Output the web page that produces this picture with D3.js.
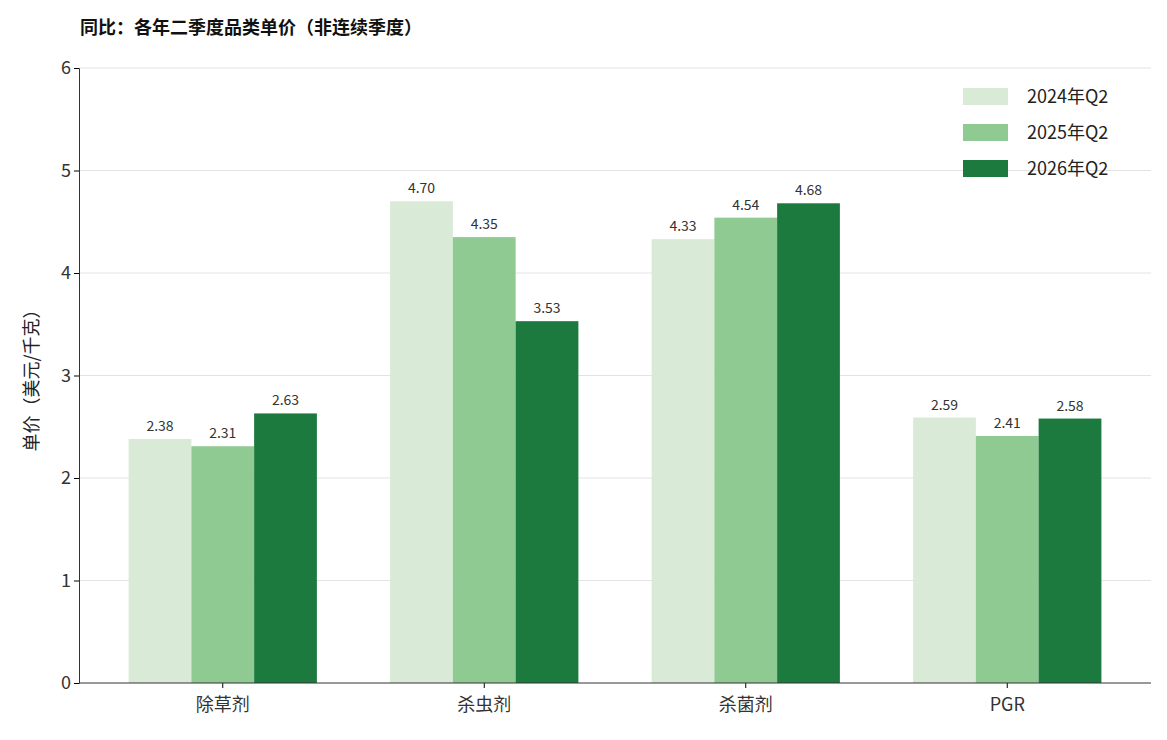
<!DOCTYPE html>
<html><head><meta charset="utf-8">
<script src="https://cdn.jsdelivr.net/npm/d3@7"></script>
<style>body{margin:0;background:#fff;font-family:"Noto Sans CJK SC","Noto Sans",sans-serif}</style>
</head><body><svg id="c" width="1167" height="740"></svg>
<script>
const categories = ["除草剂","杀虫剂","杀菌剂","PGR"];
const seriesNames = ["2024年Q2","2025年Q2","2026年Q2"];
const v2024 = [2.38,4.70,4.33,2.59];
const v2025 = [2.31,4.35,4.54,2.41];
const v2026 = [2.63,3.53,4.68,2.58];
const colors = ["#d9ead7","#8fca92","#1c7a3e"];
const yTicks = [0,1,2,3,4,5,6];
const series = [v2024,v2025,v2026];

const svg = d3.select("#c");
const L=79,R=1151,T=68,B=683;
const x = d3.scaleBand().domain(categories).range([92,1138]).padding(0);
const y = d3.scaleLinear().domain([0,6]).range([B,T]);
const gw = x.step()*0.72, bw = gw/3;

svg.append("g").selectAll("line").data(yTicks.slice(1)).join("line")
 .attr("x1",L).attr("x2",R).attr("y1",d=>y(d)).attr("y2",d=>y(d))
 .attr("stroke","#e3e3e3").attr("stroke-width",1.2);

series.forEach((vals,si)=>{
  const g=svg.append("g");
  g.selectAll("rect").data(vals).join("rect")
   .attr("x",(d,i)=>x(categories[i])+x.bandwidth()/2-gw/2+si*bw)
   .attr("width",bw).attr("y",d=>y(d)).attr("height",d=>B-y(d)).attr("fill",colors[si]);
  g.selectAll("text").data(vals).join("text")
   .attr("x",(d,i)=>x(categories[i])+x.bandwidth()/2-gw/2+si*bw+bw/2)
   .attr("y",d=>y(d)-8).attr("text-anchor","middle").attr("font-size",14).attr("fill","#333")
   .text(d=>d.toFixed(2));
});

const ya=svg.append("g").attr("transform",`translate(${L},0)`).call(d3.axisLeft(y).tickValues(yTicks).tickSize(5).tickFormat(d3.format("d")));
ya.select(".domain").attr("stroke","#333");
ya.selectAll("text").attr("font-size",18).attr("fill","#333").attr("font-family","Noto Sans CJK SC");
const xa=svg.append("g").attr("transform",`translate(0,${B})`).call(d3.axisBottom(x).tickSize(5));
xa.select(".domain").remove();
svg.append("line").attr("x1",L).attr("x2",R).attr("y1",B).attr("y2",B).attr("stroke","#333");
xa.selectAll("text").attr("font-size",18).attr("fill","#333").attr("dy","1.1em").attr("font-family","Noto Sans CJK SC");

svg.append("text").attr("x",80).attr("y",34).attr("font-size",18).attr("font-weight","bold").attr("fill","#111")
 .text("同比：各年二季度品类单价（非连续季度）");
svg.append("text").attr("transform","translate(38,376) rotate(-90)").attr("text-anchor","middle")
 .attr("font-size",18).attr("fill","#222").text("单价（美元/千克）");

const lg=svg.append("g");
seriesNames.forEach((n,i)=>{
  lg.append("rect").attr("x",963).attr("y",88+i*36).attr("width",45).attr("height",17).attr("fill",colors[i]);
  lg.append("text").attr("x",1027).attr("y",103+i*36).attr("font-size",18).attr("fill","#222").text(n);
});
</script></body></html>
